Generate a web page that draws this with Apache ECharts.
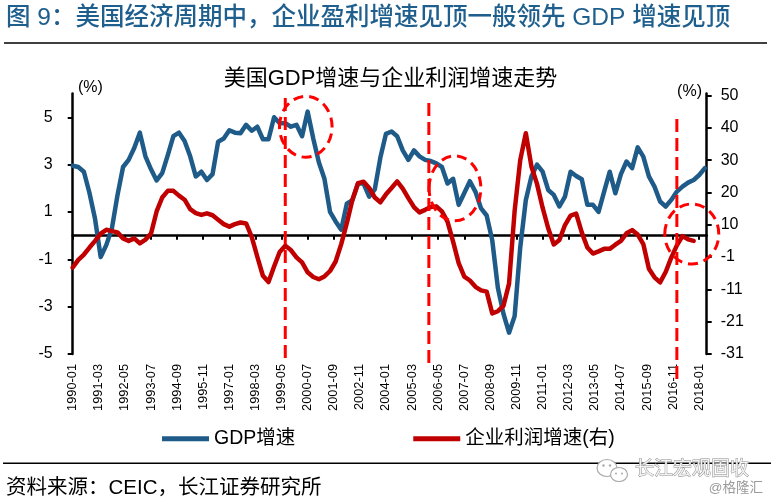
<!DOCTYPE html>
<html>
<head>
<meta charset="utf-8">
<script src="https://cdn.jsdelivr.net/npm/echarts@6/dist/echarts.min.js"></script>
<style>
html,body{margin:0;padding:0;background:#fff;}
#c{width:771px;height:503px;}
</style>
</head>
<body>
<div id="c"></div>
<script>
// ---------- data ----------
// monthly category axis 1990-01 ... 2018-05
const categories = [];
for (let y = 1990; y <= 2018; y++) {
  for (let m = 1; m <= 12; m++) {
    if (y === 2018 && m > 5) break;
    categories.push(y + '-' + (m < 10 ? '0' + m : '' + m));
  }
}
// quarterly readings, one every third month starting at 1990-01
const gdpGrowth = [
  2.95, 2.9, 2.7, 1.8, 0.7, -0.9, -0.4, 0.3, 1.7, 2.9,
  3.2, 3.7, 4.35, 3.35, 2.8, 2.33, 2.64, 3.4, 4.2, 4.35,
  4.0, 3.35, 2.5, 2.7, 2.35, 2.6, 3.97, 4.1, 4.45, 4.35,
  4.33, 4.68, 4.43, 4.6, 4.07, 4.07, 5.0, 4.75, 4.75, 4.6,
  4.68, 4.2, 5.24, 4.1, 3.1, 2.4, 1.0, 0.6, 0.25, 1.35,
  1.5, 2.2, 2.2, 1.65, 1.95, 3.3, 4.3, 4.4, 4.2, 3.6,
  3.2, 3.6, 3.35, 3.2, 3.15, 3.05, 2.9, 2.2, 2.4, 1.3,
  1.8, 2.3, 1.85, 1.15, 0.85, -0.2, -2.2, -3.3, -4.1, -3.4,
  -0.5, 1.5, 2.5, 3.0, 2.7, 1.93, 1.72, 1.23, 1.65, 2.7,
  2.52, 2.38, 1.3, 1.3, 1.0, 1.86, 2.7, 1.79, 2.6, 3.13,
  2.85, 3.73, 3.34, 2.5, 2.07, 1.44, 1.23, 1.51, 1.86, 2.07,
  2.24, 2.35, 2.56, 2.85
];
const profitGrowth = [
  -3.9, -1.5, 0.2, 2.4, 4.5, 6.8, 8.0, 7.6, 7.2, 5.3,
  4.5, 5.3, 3.7, 4.9, 6.8, 13.8, 18.2, 20.3, 20.3, 18.8,
  17.5, 14.5, 13.3, 12.7, 13.2, 12.6, 11.2, 9.8, 9.0, 9.8,
  10.3, 10.0, 5.8, -0.5, -6.5, -8.5, -3.6, 1.0, 3.0, 1.6,
  -0.7, -2.3, -5.4, -6.9, -7.6, -6.7, -5.0, -2.0, 3.5, 10.1,
  17.5, 22.7, 23.2, 21.2, 18.2, 16.7, 19.2, 21.2, 23.3, 21.0,
  18.0, 15.2, 13.5, 14.3, 15.2, 15.4, 13.8, 10.6, 4.3, -2.5,
  -6.8, -8.0, -10.0, -11.1, -11.5, -18.4, -17.7, -16.0, -9.0, 14.0,
  30.0, 38.5, 28.0, 22.5, 15.0, 8.5, 3.4, 4.8, 9.5, 12.5,
  13.1, 7.2, 2.4, 0.5, 1.2, 2.0, 2.0, 3.3, 4.5, 6.9,
  7.9, 6.5, 3.5, -4.3, -7.0, -8.6, -5.3, -0.8, 3.1, 6.0,
  5.0, 4.5
];
const leftTicks = [-5, -3, -1, 1, 3, 5];
const rightTicks = [-31.2, -21, -10.8, -0.6, 9.6, 19.8, 30, 40.2, 50.4];
const seriesNames = ['GDP增速', '企业利润增速(右)'];
// annotation anchors (category, left-axis value)
const peakLines = ['1999-07', '2005-12', '2017-01'];
const peakCircles = [['2000-06', 4.6], ['2007-02', 2.0], ['2017-09', 0.07]];

// ---------- styles ----------
const BLUE = '#1F5B88';
const RED = '#C00000';
const DASH = '#FF0000';
const FONT = '"Liberation Sans", Arial, "Noto Sans CJK SC", sans-serif';

function toMonthly(vals) {
  const out = new Array(categories.length).fill(null);
  vals.forEach(function (v, k) { out[3 * k] = v; });
  return out;
}

const chart = echarts.init(document.getElementById('c'));

const option = {
  animation: false,
  backgroundColor: '#fff',
  textStyle: { fontFamily: FONT },
  grid: { left: 72.7, right: 64.3, top: 93.6, bottom: 149, containLabel: false, outerBoundsMode: 'none' },
  legend: {
    data: seriesNames,
    left: 162, top: 429, padding: 0,
    icon: 'rect', itemWidth: 47, itemHeight: 5, itemGap: 118,
    textStyle: { fontSize: 19.5, color: '#000', fontFamily: FONT }
  },
  xAxis: [
    {
      type: 'category', data: categories, boundaryGap: false, position: 'bottom',
      axisLine: { show: false, onZero: false },
      axisTick: { show: false },
      axisLabel: { interval: 13, rotate: 90, fontSize: 12.8, color: '#000', margin: 10, fontFamily: FONT },
      splitLine: { show: false }
    },
    {
      type: 'category', data: categories, boundaryGap: false, position: 'bottom',
      axisLine: { show: true, onZero: true, onZeroAxisIndex: 0, lineStyle: { color: '#000', width: 2.5 } },
      axisTick: { show: true, interval: 13, length: 4, lineStyle: { color: '#000', width: 2 } },
      axisLabel: { show: false },
      splitLine: { show: false }
    }
  ],
  yAxis: [
    {
      type: 'value', min: -5, max: 6, position: 'left',
      axisLine: { show: true, lineStyle: { color: '#000', width: 2.5 } },
      axisTick: { show: true, customValues: leftTicks, length: 5, lineStyle: { color: '#000', width: 2 } },
      axisLabel: { customValues: leftTicks, fontSize: 16, color: '#000', margin: 20, fontFamily: FONT },
      splitLine: { show: false }
    },
    {
      type: 'value', min: -31.2, max: 51, position: 'right',
      axisLine: { show: true, lineStyle: { color: '#000', width: 2.5 } },
      axisTick: { show: true, customValues: rightTicks, length: 5, lineStyle: { color: '#000', width: 2 } },
      axisLabel: {
        customValues: rightTicks, fontSize: 16, color: '#000', margin: 14, fontFamily: FONT,
        formatter: function (v) { return String(Math.round(v)); }
      },
      splitLine: { show: false }
    }
  ],
  series: [
    {
      name: seriesNames[0], type: 'line', xAxisIndex: 0, yAxisIndex: 0,
      data: toMonthly(gdpGrowth), connectNulls: true, symbol: 'none',
      color: BLUE, lineStyle: { width: 4.5, color: BLUE, cap: 'round', join: 'round' }, z: 2
    },
    {
      name: seriesNames[1], type: 'line', xAxisIndex: 0, yAxisIndex: 1,
      data: toMonthly(profitGrowth), connectNulls: true, symbol: 'none',
      color: RED, lineStyle: { width: 4.5, color: RED, cap: 'round', join: 'round' }, z: 3
    }
  ],
  graphic: [
    { id: 't_main', type: 'text', z: 50, style: { text: '图 9：美国经济周期中，企业盈利增速见顶一般领先 GDP 增速见顶', x: 6, y: 18.5, align: 'left', verticalAlign: 'middle', fill: '#1F5F8D', fontSize: 24.5, fontWeight: 500, fontFamily: FONT } },
    { id: 'l_top', type: 'line', z: 50, shape: { x1: 4, y1: 43, x2: 767, y2: 43 }, style: { stroke: '#000', lineWidth: 1.5 } },
    { id: 't_chart', type: 'text', z: 50, style: { text: '美国GDP增速与企业利润增速走势', x: 390.5, y: 79.2, align: 'center', verticalAlign: 'middle', fill: '#000', fontSize: 22, fontFamily: FONT } },
    { id: 'u_left', type: 'text', z: 50, style: { text: '(%)', x: 78, y: 87.5, align: 'left', verticalAlign: 'middle', fill: '#000', fontSize: 16, fontFamily: FONT } },
    { id: 'u_right', type: 'text', z: 50, style: { text: '(%)', x: 702, y: 91.7, align: 'right', verticalAlign: 'middle', fill: '#000', fontSize: 16, fontFamily: FONT } },
    { id: 'l_bot', type: 'line', z: 50, shape: { x1: 3, y1: 463.3, x2: 771, y2: 463.3 }, style: { stroke: '#000', lineWidth: 1.5 } },
    { id: 't_src', type: 'text', z: 50, style: { text: '资料来源：CEIC，长江证券研究所', x: 6, y: 488.3, align: 'left', verticalAlign: 'middle', fill: '#000', fontSize: 20.5, fontFamily: FONT } },
    { id: 'wx1', type: 'ellipse', z: 60, shape: { cx: 607, cy: 468, rx: 10, ry: 8.5 }, style: { fill: '#fff', stroke: '#aaa', lineWidth: 1.2 } },
    { id: 'wx2', type: 'ellipse', z: 61, shape: { cx: 619, cy: 474.5, rx: 8.5, ry: 7 }, style: { fill: '#fff', stroke: '#aaa', lineWidth: 1.2 } },
    { id: 'wx3', type: 'circle', z: 62, shape: { cx: 603.5, cy: 465.5, r: 1.2 }, style: { fill: '#aaa' } },
    { id: 'wx4', type: 'circle', z: 62, shape: { cx: 610, cy: 465.5, r: 1.2 }, style: { fill: '#aaa' } },
    { id: 'wx5', type: 'circle', z: 62, shape: { cx: 616, cy: 473.5, r: 1 }, style: { fill: '#aaa' } },
    { id: 'wx6', type: 'circle', z: 62, shape: { cx: 622, cy: 473.5, r: 1 }, style: { fill: '#aaa' } },
    { id: 't_wm', type: 'text', z: 60, style: { text: '长江宏观固收', x: 635, y: 470, align: 'left', verticalAlign: 'middle', fill: '#f2f2f2', stroke: '#8c8c8c', lineWidth: 0.9, fontSize: 19, fontFamily: FONT } },
    { id: 't_glh', type: 'text', z: 60, style: { text: '@格隆汇', x: 763, y: 488, align: 'right', verticalAlign: 'middle', fill: '#9a9a9a', fontSize: 13.5, fontFamily: FONT } }
  ]
};

chart.setOption(option);

// annotations anchored through the chart's own scales
const lineExtents = [[98, 362], [103, 368], [119, 383]];
const circleSizes = [[26.3, 30.5], [25.9, 32.5], [27, 30]];
const extra = [];
peakLines.forEach(function (cat, i) {
  const p = chart.convertToPixel({ seriesIndex: 0 }, [categories.indexOf(cat), 0]);
  extra.push({
    id: 'pl' + i, type: 'line', z: 100,
    shape: { x1: p[0], y1: lineExtents[i][0], x2: p[0], y2: lineExtents[i][1] },
    style: { stroke: DASH, lineWidth: 3, lineDash: [13, 6] }
  });
});
peakCircles.forEach(function (c, i) {
  const p = chart.convertToPixel({ seriesIndex: 0 }, [categories.indexOf(c[0]), c[1]]);
  extra.push({
    id: 'pc' + i, type: 'ellipse', z: 100,
    shape: { cx: p[0], cy: p[1], rx: circleSizes[i][0], ry: circleSizes[i][1] },
    style: { fill: 'none', stroke: DASH, lineWidth: 3, lineDash: [10, 6] }
  });
});
chart.setOption({ graphic: extra });
</script>
</body>
</html>
